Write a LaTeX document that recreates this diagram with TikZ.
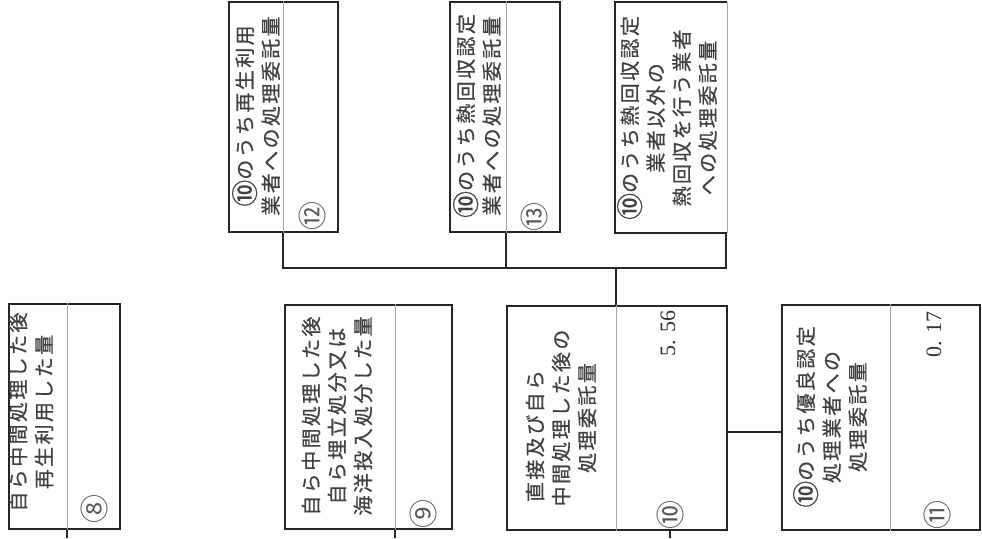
\documentclass[tikz,border=0pt]{standalone}
\usepackage{fontspec}
\newfontfamily\jp[LetterSpace=12,FakeBold=0.6]{Noto Sans CJK JP}
\newfontfamily\jpc{Noto Sans CJK JP}
\newfontfamily\numf{Liberation Serif}
\newcommand{\circnum}[1]{\raisebox{-2.6pt}{\fontsize{27}{26}\selectfont #1}}
\begin{document}
\begin{tikzpicture}[x=1pt,y=-1pt,
  box/.style={draw=black!85, line width=2.2pt, rectangle, inner sep=0pt},
  boxline/.style={draw=black!85, line width=2.2pt},
  div/.style={draw=black!35, line width=1pt},
  conn/.style={draw=black!85, line width=2pt},
  lbl/.style={rotate=90, align=center, font=\jp\fontsize{20}{26}\selectfont, text=black!75, inner sep=0pt},
  num/.style={rotate=90, font=\numf\fontsize{22}{24}\selectfont, text=black!80, inner sep=0pt},
  circ/.style={rotate=90, font=\jpc\fontsize{29}{30}\selectfont, text=black!65, inner sep=0pt}]
\useasboundingbox (0,0) rectangle (982,538);
\fill[white] (0,0) rectangle (982,538);
% boxes
\node[box, minimum width=111pt, minimum height=225pt] (b8) at (64.5,416.5) {};
\node[box, minimum width=167pt, minimum height=224pt] (b9) at (368.5,417) {};
\node[box, minimum width=220pt, minimum height=224pt] (b10) at (617,418) {};
\node[box, minimum width=198pt, minimum height=225pt] (b11) at (881,417.5) {};
\node[box, minimum width=109pt, minimum height=230pt] (b12) at (283.5,117) {};
\node[box, minimum width=110pt, minimum height=230pt] (b13) at (505,117) {};
\node[rectangle, inner sep=0pt, minimum width=112pt, minimum height=231pt] (b14) at (671,117.5) {};
\draw[boxline] (b14.north east) -- (b14.north west) -- (b14.south west) -- (b14.south east);
\draw[div] (b14.north east) -- (b14.south east);
% dividers
\coordinate (d8) at (67,0);
\coordinate (d9) at (395,0);
\coordinate (d10) at (616,0);
\coordinate (d11) at (890,0);
\coordinate (d12) at (283,0);
\coordinate (d13) at (506,0);
\draw[div] (b8.north -| d8) -- (b8.south -| d8);
\draw[div] (b9.north -| d9) -- (b9.south -| d9);
\draw[div] (b10.north -| d10) -- (b10.south -| d10);
\draw[div] (b11.north -| d11) -- (b11.south -| d11);
\draw[div] (b12.north -| d12) -- (b12.south -| d12);
\draw[div] (b13.north -| d13) -- (b13.south -| d13);
% labels
\node[lbl] (t8) at (31,412) {自ら中間処理した後\\再生利用した量};
\node[lbl] (t9) at (337,416) {自ら中間処理した後\\自ら埋立処分又は\\海洋投入処分した量};
\node[lbl] (t10) at (561,418) {直接及び自ら\hspace*{36pt}\\中間処理した後の\\処理委託量};
\node[lbl] (t11) at (830,417) {\circnum{⑩}のうち優良認定\\処理業者への\\処理委託量};
\node[lbl] (t12) at (256,116) {\circnum{⑩}のうち再生利用\\業者への処理委託量};
\node[lbl] (t13) at (477,116) {\circnum{⑩}のうち熱回収認定\\業者への処理委託量};
\node[lbl] (t14) at (667,118) {\circnum{⑩}のうち熱回収認定\\業者以外の\\熱回収を行う業者\\への処理委託量};
% numbers
\node[num, anchor=east] (n10) at (668,310) {5. 56};
\node[num, anchor=east] (n11) at (934,311) {0. 17};
% circled numbers
\node[circ] (c8) at (94,509) {⑧};
\node[circ] (c9) at (423,514) {⑨};
\node[circ] (c10) at (670,515) {⑩};
\node[circ] (c11) at (937,515) {⑪};
\node[circ] (c12) at (312,216) {⑫};
\node[circ] (c13) at (534,217) {⑬};
% connectors
\coordinate (e8) at (67,538);
\coordinate (e9) at (395,538);
\coordinate (e10) at (670,538);
\coordinate (j11) at (0,432);
\coordinate (hub) at (616,268);
\coordinate (k14) at (726,0);
\draw[conn] (b8.south -| d8) -- (e8);
\draw[conn] (b9.south -| d9) -- (e9);
\draw[conn] (b10.south -| e10) -- (e10);
\draw[conn] (b10.east |- j11) -- (b11.west |- j11);
\draw[conn] (b12.south -| d12) -- (d12 |- hub) -- (k14 |- hub) -- (b14.south -| k14);
\draw[conn] (b13.south -| d13) -- (d13 |- hub);
\draw[conn] (hub) -- (b10.north -| hub);
\end{tikzpicture}
\end{document}
